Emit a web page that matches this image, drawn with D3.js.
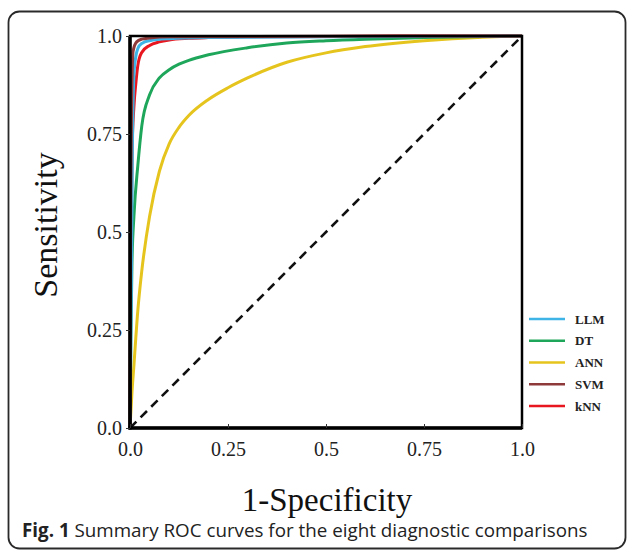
<!DOCTYPE html>
<html><head><meta charset="utf-8">
<script src="https://cdn.jsdelivr.net/npm/d3@7"></script>
<style>html,body{margin:0;padding:0;background:#fff;}svg{display:block;}</style>
</head><body>
<svg id="chart" width="627" height="552"></svg>
<script>
// ---- data ----
const seriesNames = ["LLM", "DT", "ANN", "SVM", "kNN"];
const seriesColors = ["#3db3e6", "#1ea65b", "#e6c41e", "#8e3a3a", "#e8161e"];
const xTicks = [0, 0.25, 0.5, 0.75, 1.0];
const xTickLabels = ["0.0", "0.25", "0.5", "0.75", "1.0"];
const yTickLabels = ["0.0", "0.25", "0.5", "0.75", "1.0"];

const annFpr = [0, 0.005, 0.01, 0.02, 0.03, 0.05, 0.075, 0.1, 0.125, 0.15, 0.2, 0.25, 0.3, 0.4, 0.5, 0.6, 0.75, 0.9, 1.0];
const annTpr = [0, 0.09, 0.16, 0.30, 0.40, 0.54, 0.655, 0.725, 0.767, 0.797, 0.838, 0.868, 0.893, 0.933, 0.957, 0.973, 0.988, 0.997, 1.0];

const dtFpr = [0, 0.002, 0.005, 0.01, 0.02, 0.03, 0.05, 0.075, 0.1, 0.125, 0.15, 0.2, 0.3, 0.4, 0.5, 0.6, 0.75, 0.9, 1.0];
const dtTpr = [0, 0.22, 0.42, 0.54, 0.67, 0.77, 0.85, 0.893, 0.914, 0.928, 0.938, 0.952, 0.97, 0.982, 0.988, 0.992, 0.996, 0.999, 1.0];

const knnFpr = [0, 0.002, 0.005, 0.01, 0.015, 0.02, 0.03, 0.05, 0.075, 0.1, 0.15, 0.2, 0.3, 0.5, 0.75, 1.0];
const knnTpr = [0, 0.40, 0.70, 0.82, 0.88, 0.925, 0.958, 0.976, 0.985, 0.99, 0.994, 0.996, 0.998, 0.999, 1.0, 1.0];

const llmFpr = [0, 0.003, 0.006, 0.01, 0.015, 0.02, 0.03, 0.05, 0.1, 0.2, 0.5, 1.0];
const llmTpr = [0, 0.30, 0.70, 0.90, 0.948, 0.968, 0.981, 0.988, 0.993, 0.996, 0.998, 1.0];

const svmFpr = [0, 0.002, 0.004, 0.008, 0.017, 0.03, 0.05, 0.1, 0.3, 1.0];
const svmTpr = [0, 0.60, 0.82, 0.962, 0.985, 0.992, 0.995, 0.998, 0.999, 1.0];

const seriesData = {
  LLM: [llmFpr, llmTpr],
  DT: [dtFpr, dtTpr],
  ANN: [annFpr, annTpr],
  SVM: [svmFpr, svmTpr],
  kNN: [knnFpr, knnTpr]
};
const drawOrder = ["ANN", "DT", "kNN", "LLM", "SVM"];

// ---- layout ----
const svg = d3.select("#chart");
const L = 130, R = 522, T = 36, B = 428;
const x = d3.scaleLinear().domain([0, 1]).range([L, R]);
const y = d3.scaleLinear().domain([0, 1]).range([B, T]);

// outer rounded frame
svg.append("rect").attr("x", 8.5).attr("y", 11.5).attr("width", 617).attr("height", 537)
  .attr("rx", 11).attr("fill", "none").attr("stroke", "#2a2a2a").attr("stroke-width", 1.8);

// diagonal
svg.append("line").attr("x1", x(0)).attr("y1", y(0)).attr("x2", x(1)).attr("y2", y(1))
  .attr("stroke", "#111").attr("stroke-width", 2.6).attr("stroke-dasharray", "9,6");

// curves
const line = d3.line().x(d => x(d[0])).y(d => y(d[1])).curve(d3.curveMonotoneX);
drawOrder.forEach(name => {
  const [f, t] = seriesData[name];
  const pts = f.map((v, i) => [v, t[i]]);
  svg.append("path").datum(pts).attr("d", line).attr("fill", "none")
    .attr("stroke", seriesColors[seriesNames.indexOf(name)]).attr("stroke-width", 3)
    .attr("stroke-linejoin", "round");
});

// plot box
svg.append("rect").attr("x", L).attr("y", T).attr("width", R - L).attr("height", B - T)
  .attr("fill", "none").attr("stroke", "#000").attr("stroke-width", 2.5);
svg.append("line").attr("x1", L).attr("x2", L).attr("y1", T).attr("y2", B + 1.5)
  .attr("stroke", "#000").attr("stroke-width", 3.5);
svg.append("line").attr("x1", L - 1.5).attr("x2", R).attr("y1", B).attr("y2", B)
  .attr("stroke", "#000").attr("stroke-width", 3.5);

// axes
const xAxis = d3.axisBottom(x).tickValues(xTicks).tickFormat((d, i) => xTickLabels[i]).tickSize(-4).tickPadding(14);
const gx = svg.append("g").attr("transform", `translate(0,${B})`).call(xAxis);
gx.select(".domain").remove();
gx.selectAll(".tick line").attr("stroke", "#333").attr("stroke-width", 1);
gx.selectAll("text").attr("font-family", "'Liberation Serif','Times New Roman',serif")
  .attr("font-size", 20).attr("fill", "#222");

const yAxis = d3.axisLeft(y).tickValues(xTicks).tickFormat((d, i) => yTickLabels[i]).tickSize(4).tickPadding(4);
const gy = svg.append("g").attr("transform", `translate(${L},0)`).call(yAxis);
gy.select(".domain").remove();
gy.selectAll(".tick line").attr("stroke", "#333").attr("stroke-width", 1);
gy.selectAll("text").attr("font-family", "'Liberation Serif','Times New Roman',serif")
  .attr("font-size", 20).attr("fill", "#222");

// axis titles
svg.append("text").attr("x", 327).attr("y", 511).attr("text-anchor", "middle")
  .attr("font-family", "'Liberation Serif','Times New Roman',serif").attr("font-size", 33)
  .attr("fill", "#111").text("1-Specificity");
svg.append("text").attr("transform", "translate(57,225) rotate(-90)").attr("text-anchor", "middle")
  .attr("font-family", "'Liberation Serif','Times New Roman',serif").attr("font-size", 34)
  .attr("fill", "#111").text("Sensitivity");

// legend
const legendY = d3.scalePoint().domain(seriesNames).range([319, 406]);
seriesNames.forEach((name, i) => {
  const ly = legendY(name);
  svg.append("line").attr("x1", 529).attr("x2", 565).attr("y1", ly).attr("y2", ly)
    .attr("stroke", seriesColors[i]).attr("stroke-width", 2.5);
  svg.append("text").attr("x", 575).attr("y", ly + 4.5)
    .attr("font-family", "'Liberation Serif','Times New Roman',serif").attr("font-weight", "bold")
    .attr("font-size", 13).attr("fill", "#222").text(name);
});

// caption
const cap = svg.append("text").attr("x", 22).attr("y", 537)
  .attr("font-family", "'Open Sans','Noto Sans',sans-serif").attr("font-size", 18.8).attr("fill", "#222");
cap.append("tspan").attr("font-weight", "bold").text("Fig. 1");
cap.append("tspan").text(" Summary ROC curves for the eight diagnostic comparisons");
</script>
</body></html>
